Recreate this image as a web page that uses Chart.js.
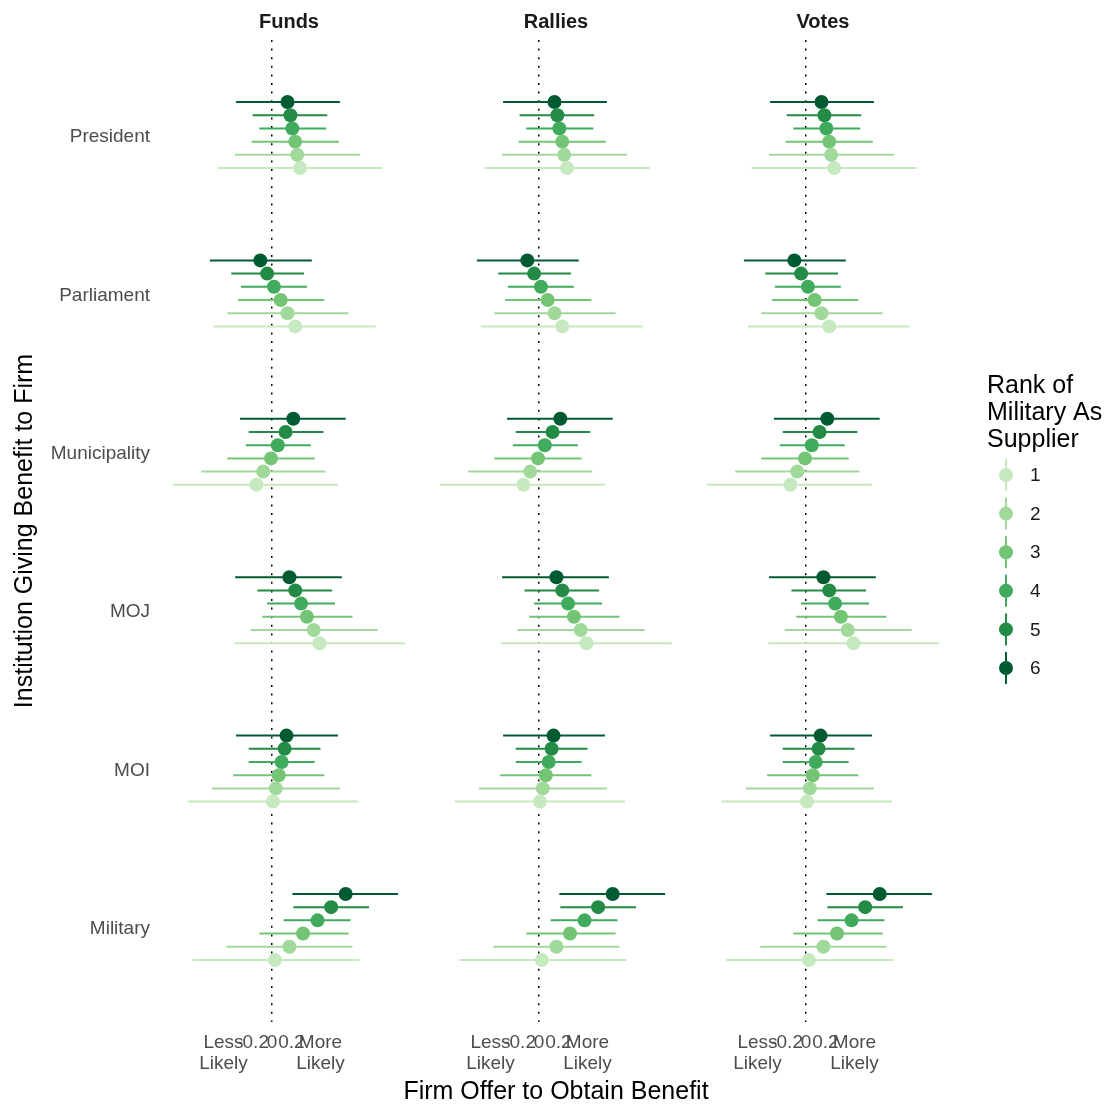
<!DOCTYPE html>
<html>
<head>
<meta charset="utf-8">
<title>Firm Offer to Obtain Benefit</title>
<script src="https://cdn.jsdelivr.net/npm/chart.js@4.4.1/dist/chart.umd.min.js"></script>
<style>
  html, body { margin: 0; padding: 0; background: #fff; }
  #wrap { position: relative; width: 1107px; height: 1107px; font-family: "Liberation Sans", Arial, sans-serif; overflow: hidden; }
  #wrap canvas { position: absolute; top: 0; }
  .strip { position: absolute; top: 9px; font-weight: bold; font-size: 20px; line-height: 24px; color: #1a1a1a; transform: translateX(-50%); white-space: nowrap; }
  .xtitle { position: absolute; top: 1075px; left: 556px; transform: translateX(-50%); font-size: 25px; line-height: 30px; color: #000; white-space: nowrap; }
</style>
</head>
<body>
<div id="wrap">
  <canvas id="panel0" width="420" height="1107" style="left:0px"></canvas>
  <canvas id="panel1" width="262" height="1107" style="left:425px"></canvas>
  <canvas id="panel2" width="415" height="1107" style="left:692px"></canvas>
  <div class="strip" style="left:289px">Funds</div>
  <div class="strip" style="left:556px">Rallies</div>
  <div class="strip" style="left:823px">Votes</div>
  <div class="xtitle">Firm Offer to Obtain Benefit</div>
</div>
<script>
// Facet panels (columns) and institutions (rows, top to bottom)
const outcomes = ['Funds', 'Rallies', 'Votes'];
const institutions = ['President', 'Parliament', 'Municipality', 'MOJ', 'MOI', 'Military'];

// Rank of military as supplier, with its Greens colour
const ranks = [1, 2, 3, 4, 5, 6];
const rankColors = ['#C7E9C0', '#A1D99B', '#74C476', '#41AB5D', '#238B45', '#005A32'];

// x-axis breaks and their labels
const xTickValues = [-0.5, -0.2, 0, 0.2, 0.5];
const xTickLabels = [['Less', 'Likely'], '-0.2', '0', '0.2', ['More', 'Likely']];

// Estimates per institution, one value per rank (1..6); shared by all outcome panels
const estimate = [
  [0.29, 0.26, 0.24, 0.21, 0.19, 0.16],     // President
  [0.24, 0.16, 0.09, 0.02, -0.05, -0.12],   // Parliament
  [-0.16, -0.09, -0.01, 0.06, 0.14, 0.22],  // Municipality
  [0.49, 0.43, 0.36, 0.30, 0.24, 0.18],     // MOJ
  [0.01, 0.04, 0.07, 0.10, 0.13, 0.15],     // MOI
  [0.03, 0.18, 0.32, 0.47, 0.61, 0.76]      // Military
];
// Lower bounds of the intervals
const lower = [
  [-0.56, -0.38, -0.21, -0.13, -0.20, -0.37],
  [-0.60, -0.46, -0.35, -0.32, -0.42, -0.64],
  [-1.02, -0.73, -0.46, -0.27, -0.24, -0.33],
  [-0.39, -0.22, -0.10, -0.05, -0.15, -0.38],
  [-0.87, -0.62, -0.40, -0.24, -0.24, -0.37],
  [-0.82, -0.47, -0.13, 0.12, 0.22, 0.21]
];
// Upper bounds of the intervals
const upper = [
  [1.14, 0.91, 0.69, 0.56, 0.57, 0.70],
  [1.07, 0.79, 0.54, 0.36, 0.33, 0.41],
  [0.68, 0.55, 0.44, 0.40, 0.53, 0.76],
  [1.37, 1.09, 0.83, 0.65, 0.62, 0.72],
  [0.89, 0.70, 0.54, 0.44, 0.50, 0.68],
  [0.90, 0.83, 0.79, 0.81, 1.00, 1.30]
];

const FONT = '"Liberation Sans", Arial, sans-serif';
const dodgeWidth = 0.5;
// position_dodge-style offset: the highest rank sits at the top of each row (y axis is reversed)
function dodge(rankIndex) {
  const n = ranks.length;
  return ((n + 1) / 2 - ranks[rankIndex]) * dodgeWidth / n;
}

function buildDatasets() {
  const sets = [];
  ranks.forEach((rank, r) => {
    institutions.forEach((inst, i) => {
      const y = i + dodge(r);
      sets.push({
        type: 'scatter',
        label: inst + ' ' + rank,
        data: [{ x: lower[i][r], y: y }, { x: upper[i][r], y: y }],
        showLine: true,
        borderColor: rankColors[r],
        borderWidth: 2,
        pointRadius: 0,
        pointHoverRadius: 0,
        order: 2
      });
    });
  });
  ranks.forEach((rank, r) => {
    sets.push({
      type: 'scatter',
      label: 'Rank ' + rank,
      data: institutions.map((inst, i) => ({ x: estimate[i][r], y: i + dodge(r) })),
      showLine: false,
      pointRadius: 7,
      pointHoverRadius: 7,
      pointBackgroundColor: rankColors[r],
      pointBorderWidth: 0,
      borderColor: rankColors[r],
      order: 1
    });
  });
  return sets;
}

// Legend for the rank colours, drawn to the right of the last panel
const rankLegend = {
  id: 'rankLegend',
  afterDraw(chart) {
    const ctx = chart.ctx;
    const x0 = chart.chartArea.right + 33;
    ctx.save();
    ctx.fillStyle = '#000';
    ctx.font = '25px ' + FONT;
    ctx.textBaseline = 'middle';
    ctx.textAlign = 'left';
    ['Rank of', 'Military As', 'Supplier'].forEach((t, k) => ctx.fillText(t, x0, 386 + k * 27));
    ranks.forEach((rank, r) => {
      const cy = 475 + r * 38.6;
      const cx = x0 + 19;
      ctx.strokeStyle = rankColors[r];
      ctx.lineWidth = 2;
      ctx.beginPath();
      ctx.moveTo(cx, cy - 16);
      ctx.lineTo(cx, cy + 16);
      ctx.stroke();
      ctx.fillStyle = rankColors[r];
      ctx.beginPath();
      ctx.arc(cx, cy, 7, 0, Math.PI * 2);
      ctx.fill();
      ctx.fillStyle = '#1a1a1a';
      ctx.font = '19px ' + FONT;
      ctx.fillText(String(rank), x0 + 43, cy + 1);
    });
    ctx.restore();
  }
};

function makePanel(canvasId, outcome, showY, padRight, withLegend) {
  const ctx = document.getElementById(canvasId).getContext('2d');
  return new Chart(ctx, {
    type: 'scatter',
    data: { datasets: buildDatasets() },
    plugins: withLegend ? [rankLegend] : [],
    options: {
      responsive: false,
      animation: false,
      events: [],
      layout: { autoPadding: false, padding: { top: 40, left: 0, right: padRight, bottom: 0 } },
      plugins: { legend: { display: false }, tooltip: { enabled: false }, title: { display: false } },
      scales: {
        x: {
          type: 'linear',
          min: -1.175,
          max: 1.526,
          afterBuildTicks: (scale) => { scale.ticks = xTickValues.map(v => ({ value: v })); },
          afterFit: (scale) => { scale.height = 85; scale.paddingLeft = 0; scale.paddingRight = 0; },
          ticks: {
            autoSkip: false,
            maxRotation: 0,
            minRotation: 0,
            padding: 10,
            color: '#4D4D4D',
            font: { family: FONT, size: 19, lineHeight: 1.1 },
            callback: (v) => xTickLabels[xTickValues.indexOf(v)]
          },
          grid: {
            drawTicks: false,
            lineWidth: 1.5,
            color: (c) => (c.tick && c.tick.value === 0) ? '#000' : 'rgba(0,0,0,0)'
          },
          border: { display: false, dash: [2, 6.6] }
        },
        y: {
          type: 'linear',
          display: showY,
          reverse: true,
          min: -0.6,
          max: institutions.length - 0.4,
          afterBuildTicks: (scale) => { scale.ticks = institutions.map((_, i) => ({ value: i })); },
          afterFit: (scale) => { scale.width = showY ? 158 : 0; scale.paddingTop = 0; scale.paddingBottom = 0; },
          ticks: {
            autoSkip: false,
            padding: 8,
            labelOffset: 2,
            color: '#4D4D4D',
            font: { family: FONT, size: 19 },
            callback: (v) => institutions[v]
          },
          grid: { display: false, drawTicks: false },
          border: { display: false },
          title: {
            display: true,
            text: 'Institution Giving Benefit to Firm',
            color: '#000',
            font: { family: FONT, size: 25 },
            padding: { top: 10, bottom: 0 }
          }
        }
      }
    }
  });
}

makePanel('panel0', outcomes[0], true, 0, false);
makePanel('panel1', outcomes[1], false, 0, false);
makePanel('panel2', outcomes[2], false, 153, true);
</script>
</body>
</html>
